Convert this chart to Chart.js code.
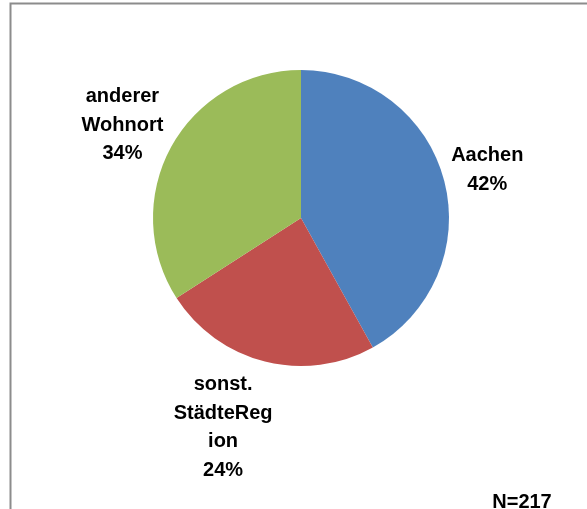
<!DOCTYPE html>
<html>
<head>
<meta charset="utf-8">
<script src="https://cdn.jsdelivr.net/npm/chart.js@4/dist/chart.umd.min.js"></script>
<style>
  html, body { margin: 0; padding: 0; background: #fff; }
  #wrap { width: 587px; height: 509px; position: relative; }
</style>
</head>
<body>
<div id="wrap"><canvas id="chart" width="587" height="509"></canvas></div>
<script>
// data (N=217)
let categories = ["Aachen", "sonst. StädteRegion", "anderer Wohnort"];
let labelLines = [["Aachen"], ["sonst.", "StädteReg", "ion"], ["anderer", "Wohnort"]];
let counts = [91, 52, 74];
let percents = ["42%", "24%", "34%"];
let colors = ["#4F81BD", "#C0504D", "#9BBB59"];
let noteText = "N=217";

// how far out each label sits, in radii
let labelDist = [1.30, 1.51, 1.36];
let labelAngleShift = [0, 0.11, -0.02];

let frame = {
    id: "frame",
    beforeDraw(chart) {
        let ctx = chart.ctx;
        ctx.save();
        ctx.fillStyle = "#fff";
        ctx.fillRect(0, 0, chart.width, chart.height);
        ctx.strokeStyle = "#8c8c8c";
        ctx.lineWidth = 2;
        ctx.beginPath();
        ctx.moveTo(10.5, chart.height);
        ctx.lineTo(10.5, 3.5);
        ctx.lineTo(chart.width, 3.5);
        ctx.stroke();
        ctx.restore();
    }
};

let pieLabels = {
    id: "pieLabels",
    afterDraw(chart) {
        let ctx = chart.ctx;
        let meta = chart.getDatasetMeta(0);
        ctx.save();
        ctx.font = "bold 20px 'Liberation Sans', Arial, sans-serif";
        ctx.fillStyle = "#000";
        ctx.textAlign = "center";
        ctx.textBaseline = "middle";
        let lh = 28.5;
        meta.data.forEach((arc, i) => {
            let p = arc.getProps(["x", "y", "startAngle", "endAngle", "outerRadius"], true);
            let mid = (p.startAngle + p.endAngle) / 2 + labelAngleShift[i];
            let r = p.outerRadius * labelDist[i];
            let cx = p.x + Math.cos(mid) * r;
            let cy = p.y + Math.sin(mid) * r;
            let lines = labelLines[i].concat([percents[i]]);
            let top = cy - (lines.length - 1) * lh / 2;
            lines.forEach((t, k) => ctx.fillText(t, cx, top + k * lh));
        });
        ctx.fillText(noteText, 522, 502);
        ctx.restore();
    }
};

new Chart(document.getElementById("chart"), {
    type: "pie",
    data: {
        labels: categories,
        datasets: [{
            data: counts,
            backgroundColor: colors,
            borderWidth: 0
        }]
    },
    options: {
        responsive: false,
        animation: false,
        layout: { padding: { top: 70, bottom: 143, left: 20, right: 5 } },
        plugins: {
            legend: { display: false },
            tooltip: { enabled: false }
        }
    },
    plugins: [frame, pieLabels]
});
</script>
</body>
</html>
